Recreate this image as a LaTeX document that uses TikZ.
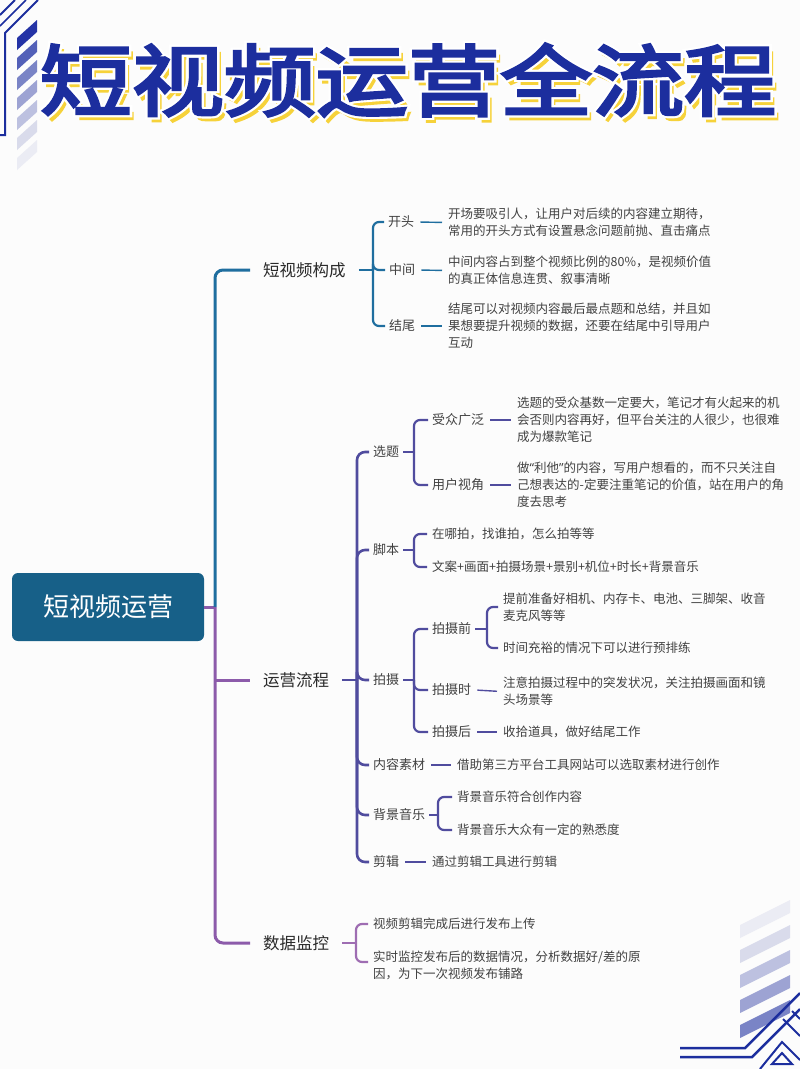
\documentclass[tikz,border=0pt]{standalone}
\usepackage{fontspec}
\newfontfamily\cjk{Noto Sans CJK SC}
\newfontfamily\lat{Noto Sans}
\newfontfamily\titlefont[FakeBold=3.5]{Noto Sans CJK SC}
\newfontfamily\titlehalo[FakeBold=9]{Noto Sans CJK SC}
\definecolor{bg}{HTML}{FCFCFC}
\definecolor{blueL}{HTML}{1F6E9F}
\definecolor{indigo}{HTML}{504C9E}
\definecolor{purp}{HTML}{8C5BAA}
\definecolor{purpL}{HTML}{9E6DB2}
\definecolor{rootC}{HTML}{176088}
\definecolor{titleB}{HTML}{1C2E9E}
\definecolor{titleY}{HTML}{F6D23A}
\definecolor{txt}{HTML}{414141}
\definecolor{txtB}{HTML}{2A2A2A}
\definecolor{d0}{HTML}{2433A6}
\definecolor{d1}{HTML}{5360B8}
\definecolor{d2}{HTML}{7A84C6}
\definecolor{d3}{HTML}{9DA3D3}
\definecolor{d4}{HTML}{BDC1E0}
\definecolor{d5}{HTML}{D9DBEB}
\definecolor{d6}{HTML}{EBECF4}
\tikzset{
  lbl/.style={font=\cjk\fontsize{13}{16}\selectfont, text=txt, inner xsep=4pt, inner ysep=2pt, anchor=west},
  big/.style={font=\cjk\fontsize{16.5}{20}\selectfont, text=txtB, inner xsep=13pt, inner ysep=2pt, anchor=west},
  det/.style={font=\cjk\fontsize{12.5}{17}\selectfont, text=txt, align=left, inner xsep=2pt, inner ysep=1pt, anchor=west},
  trunk/.style={line width=3pt, rounded corners=8pt},
  brk/.style={line width=2.2pt, rounded corners=6pt},
  brkd/.style={brk, shorten >=3pt},
  dsh/.style={line width=1.4pt, shorten <=2pt, shorten >=4pt},
  ttl/.style={inner sep=0pt, xscale=1.18, transform shape},
  rootbox/.style={fill=rootC, rounded corners=6pt, minimum width=192pt, minimum height=68pt, text=white, font=\cjk\fontsize{26}{30}\selectfont},
  deco/.style={titleB, line width=2pt},
}
\begin{document}
\begin{tikzpicture}[x=1pt,y=-1pt]
\useasboundingbox[fill=bg] (0,0) rectangle (800,1069);

% ---------- decorations ----------
\foreach \i/\c in {0/d0,1/d1,2/d2,3/d3,4/d4,5/d5,6/d6}
  \fill[\c] (17,{38+20*\i}) -- (37,{20+20*\i}) -- (37,{32+20*\i}) -- (17,{50+20*\i}) -- cycle;
\draw[deco] (0,135) -- (5,135) -- (5,33) -- (38,0);
\draw[deco] (0,15) -- (15,0);
\draw[deco, line width=1.5pt] (0,26) -- (26,0);

\foreach \i/\c in {0/d6,1/d5,2/d4,3/d3,4/d2}
  \fill[\c] (740,{925+25*\i}) -- (790,{900+25*\i}) -- (790,{913+25*\i}) -- (740,{938+25*\i}) -- cycle;
\draw[deco, line width=2.5pt] (680,1048) -- (745,1048) -- (800,993);
\draw[deco, line width=2.5pt] (680,1057) -- (752,1057) -- (800,1009);
\draw[deco] (760,1069) -- (782,1042) -- (800,1060);
\draw[deco] (772,1064) -- (782,1053) -- (792,1064) -- cycle;
\draw[deco] (783,1019) -- (800,1036);
\draw[deco] (792,1011) -- (800,1019);

% ---------- title ----------
\node[ttl, text=titleY, font=\titlefont\fontsize{78}{86}\selectfont] (tY) at (412,85) {短视频运营全流程};
\node[ttl, text=white, font=\titlehalo\fontsize{78}{86}\selectfont] (tW) at (408,80) {短视频运营全流程};
\node[ttl, text=titleB, font=\titlefont\fontsize{78}{86}\selectfont] (tB) at (408,80) {短视频运营全流程};

% ---------- root and main branches ----------
\node[rootbox] (R) at (108,607) {短视频运营};
\coordinate (sp) at (215,607);
\node[big] (A) at (250,270) {短视频构成};
\node[big] (B) at (250,680) {运营流程};
\node[big] (C) at (250,943) {数据监控};
\draw[purp, trunk] (R.east) -- (sp);
\draw[blueL, trunk] (sp) |- (A.west);
\draw[purp, trunk] (sp) |- (C.west);
\draw[purp, trunk] (sp |- B.west) -- (B.west);

% ---------- section 1 ----------
\coordinate (b1) at (373,270);
\node[lbl] (k1) at (384,222) {开头};
\node[lbl] (k2) at (385,270) {中间};
\node[lbl] (k3) at (385,326) {结尾};
\node[det] (dk1) at (446,222.5) {开场要吸引人，让用户对后续的内容建立期待，\\常用的开头方式有设置悬念问题前抛、直击痛点};
\node[det] (dk2) at (446,270.5) {中间内容占到整个视频比例的80\%，是视频价值\\的真正体信息连贯、叙事清晰};
\node[det] (dk3) at (446,326) {结尾可以对视频内容最后最点题和总结，并且如\\果想要提升视频的数据，还要在结尾中引导用户\\互动};
\draw[blueL, brk] (A.east) -- (b1);
\foreach \k in {k1,k2,k3} \draw[blueL, brk] (b1) |- (\k.west);
\foreach \k in {1,2,3} \draw[blueL, dsh] (k\k.east) -- (dk\k.west);

% ---------- section 2 ----------
\coordinate (s2) at (357,680);
\draw[indigo, brk] (B.east) -- (s2);
\node[lbl] (x1) at (369,452) {选题};
\node[lbl] (x2) at (369,550) {脚本};
\node[lbl] (x3) at (369,680) {拍摄};
\node[lbl] (x4) at (369,765) {内容素材};
\node[lbl] (x5) at (369,815) {背景音乐};
\node[lbl] (x6) at (369,862) {剪辑};
\foreach \k in {x1,x2,x3,x4,x5,x6} \draw[indigo, trunk, line width=2.6pt] (s2) |- (\k.west);

% 选题
\coordinate (bx1) at (414,452);
\draw[indigo, brk] (x1.east) -- (bx1);
\node[lbl] (y1) at (428,420) {受众广泛};
\node[lbl] (y2) at (428,485) {用户视角};
\draw[indigo, brk] (bx1) |- (y1.west);
\draw[indigo, brk] (bx1) |- (y2.west);
\node[det] (dy1) at (515,420) {选题的受众基数一定要大，笔记才有火起来的机\\会否则内容再好，但平台关注的人很少，也很难\\成为爆款笔记};
\node[det] (dy2) at (515,485) {做{\lat “}利他{\lat ”}的内容，写用户想看的，而不只关注自\\己想表达的-定要注重笔记的价值，站在用户的角\\度去思考};
\draw[indigo, dsh] (y1.east) -- (dy1.west);
\draw[indigo, dsh] (y2.east) -- (dy2.west);

% 脚本
\coordinate (bx2) at (414,550);
\draw[indigo, brk] (x2.east) -- (bx2);
\node[det] (j1) at (430,534) {在哪拍，找谁拍，怎么拍等等};
\node[det] (j2) at (430,567) {文案+画面+拍摄场景+景别+机位+时长+背景音乐};
\draw[indigo, brkd] (bx2) |- (j1.west);
\draw[indigo, brkd] (bx2) |- (j2.west);

% 拍摄
\coordinate (bx3) at (414,680);
\draw[indigo, brk] (x3.east) -- (bx3);
\node[lbl] (p1) at (428,629) {拍摄前};
\node[lbl] (p2) at (428,690) {拍摄时};
\node[lbl] (p3) at (428,732) {拍摄后};
\foreach \k in {p1,p2,p3} \draw[indigo, brk] (bx3) |- (\k.west);
\coordinate (bp1) at (487,629);
\draw[indigo, brk] (p1.east) -- (bp1);
\node[det] (q1) at (501,607) {提前准备好相机、内存卡、电池、三脚架、收音\\麦克风等等};
\node[det] (q2) at (501,648) {时间充裕的情况下可以进行预排练};
\draw[indigo, brkd] (bp1) |- (q1.west);
\draw[indigo, brkd] (bp1) |- (q2.west);
\node[det] (q3) at (501,691.5) {注意拍摄过程中的突发状况，关注拍摄画面和镜\\头场景等};
\node[det] (q4) at (501,732) {收拾道具，做好结尾工作};
\draw[indigo, dsh] (p2.east) -- (q3.west);
\draw[indigo, dsh] (p3.east) -- (q4.west);

% 内容素材
\node[det] (m1) at (455,765) {借助第三方平台工具网站可以选取素材进行创作};
\draw[indigo, dsh] (x4.east) -- (m1.west);

% 背景音乐
\coordinate (bx5) at (438,815);
\draw[indigo, brk] (x5.east) -- (bx5);
\node[det] (g1) at (455,797) {背景音乐符合创作内容};
\node[det] (g2) at (455,830) {背景音乐大众有一定的熟悉度};
\draw[indigo, brkd] (bx5) |- (g1.west);
\draw[indigo, brkd] (bx5) |- (g2.west);

% 剪辑
\node[det] (e1) at (430,862) {通过剪辑工具进行剪辑};
\draw[indigo, dsh] (x6.east) -- (e1.west);

% ---------- section 3 ----------
\coordinate (bc) at (356,943);
\draw[purpL, brk] (C.east) -- (bc);
\node[det] (c1) at (371,924) {视频剪辑完成后进行发布上传};
\node[det] (c2) at (371,965) {实时监控发布后的数据情况，分析数据好/差的原\\因，为下一次视频发布铺路};
\draw[purpL, brkd] (bc) |- (c1.west);
\draw[purpL, brkd] (bc) |- ([yshift=3pt]c2.west);
\end{tikzpicture}
\end{document}
